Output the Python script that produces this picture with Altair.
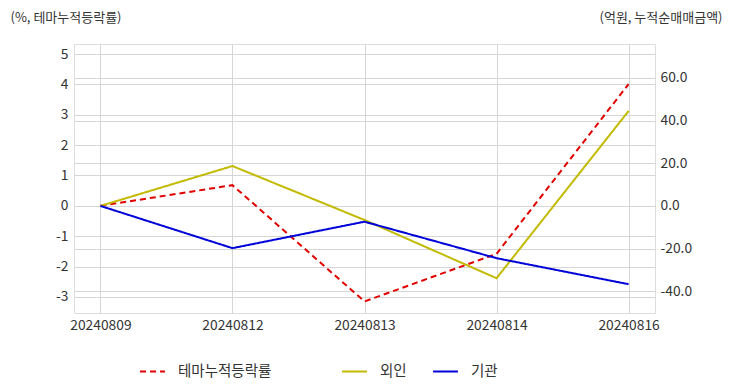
import altair as alt
import pandas as pd

dates = ["20240809", "20240812", "20240813", "20240814", "20240816"]
theme_rate = [0.0, 0.68, -3.15, -1.58, 4.01]
foreign = [0.0, 18.7, -6.6, -33.9, 44.5]
institution = [0.0, -19.8, -7.4, -24.5, -36.7]

series_names = ["테마누적등락률", "외인", "기관"]
series_colors = ["#e00000", "#c2ba00", "#0000d8"]
series_dash = [[6, 4], [1, 0], [1, 0]]

rows = []
for name, vals in zip(series_names, [theme_rate, foreign, institution]):
    for d, v in zip(dates, vals):
        rows.append({"date": d, "series": name, "dseries": name, "value": v})
df = pd.DataFrame(rows)

FONT = "Noto Sans CJK KR"
GRID = "#d6d6d6"
LBL = 13.8

xenc = alt.X("date:O", sort=dates, scale=alt.Scale(type="point", padding=0.2),
             axis=alt.Axis(title=None, labelAngle=0, grid=True, gridColor=GRID,
                           ticks=False, domain=False, labelPadding=5,
                           labelFontSize=LBL, labelColor="#333"))

common = dict(title=None, orient="none", legendY=314, direction="horizontal",
              symbolType="stroke", symbolSize=620, symbolStrokeWidth=2,
              labelFontSize=14.5, labelColor="#333", labelOffset=12,
              columnPadding=22, labelFont=FONT, labelLimit=400)

# colour scale domain listed in a different order so its legend stays separate
color_domain = [series_names[1], series_names[2], series_names[0]]
color_range = [series_colors[1], series_colors[2], series_colors[0]]

color = alt.Color("series:N", scale=alt.Scale(domain=color_domain, range=color_range),
                  legend=alt.Legend(values=["외인", "기관"], legendX=267, **common))
dash = alt.StrokeDash("dseries:N", scale=alt.Scale(domain=series_names, range=series_dash),
                      legend=alt.Legend(values=["테마누적등락률"], legendX=65,
                                        symbolStrokeColor="#e00000", **common))

minus_fix_int = "replace(format(datum.value, 'd'), '\u2212', '-')"
minus_fix_1f = "replace(format(datum.value, '.1f'), '\u2212', '-')"

left = alt.Chart(df).transform_filter(alt.datum.series == "테마누적등락률").mark_line(
    strokeWidth=2).encode(
    x=xenc,
    y=alt.Y("value:Q", scale=alt.Scale(domain=[-3.53, 5.33], nice=False, zero=False),
            axis=alt.Axis(orient="left", values=list(range(-3, 6)), labelExpr=minus_fix_int,
                          grid=True, gridColor=GRID, ticks=False, domain=False,
                          labelPadding=6, labelFontSize=LBL, labelColor="#333",
                          title="(%, 테마누적등락률)", titleAngle=0, titleAlign="left",
                          titleBaseline="alphabetic", titleX=-64, titleY=-23,
                          titleFontSize=13, titleFontWeight="normal", titleColor="#333",
                          titleFont=FONT)),
    color=color,
    strokeDash=dash,
)

right = alt.Chart(df).transform_filter(alt.datum.series != "테마누적등락률").mark_line(
    strokeWidth=2).encode(
    x=xenc,
    y=alt.Y("value:Q", scale=alt.Scale(domain=[-50.2, 75.9], nice=False, zero=False),
            axis=alt.Axis(orient="right", values=[-40, -20, 0, 20, 40, 60],
                          labelExpr=minus_fix_1f,
                          grid=True, gridColor=GRID, ticks=False, domain=False,
                          labelPadding=5, labelFontSize=LBL, labelColor="#333",
                          title="(억원, 누적순매매금액)", titleAngle=0, titleAlign="right",
                          titleBaseline="alphabetic", titleX=67, titleY=-23,
                          titleFontSize=13, titleFontWeight="normal", titleColor="#333",
                          titleFont=FONT)),
    color=color,
    strokeDash=dash,
    detail="series:N",
)

chart = alt.layer(left, right).resolve_scale(y="independent").properties(
    width=581, height=269,
    autosize=alt.AutoSizeParams(type="none"),
    padding={"left": 66, "top": 36, "right": 69, "bottom": 68},
    background="white",
).configure_view(stroke="#c8c8c8", strokeWidth=1.5).configure(font=FONT)

chart.save("out.html", embed_options={"renderer": "svg", "actions": False})
